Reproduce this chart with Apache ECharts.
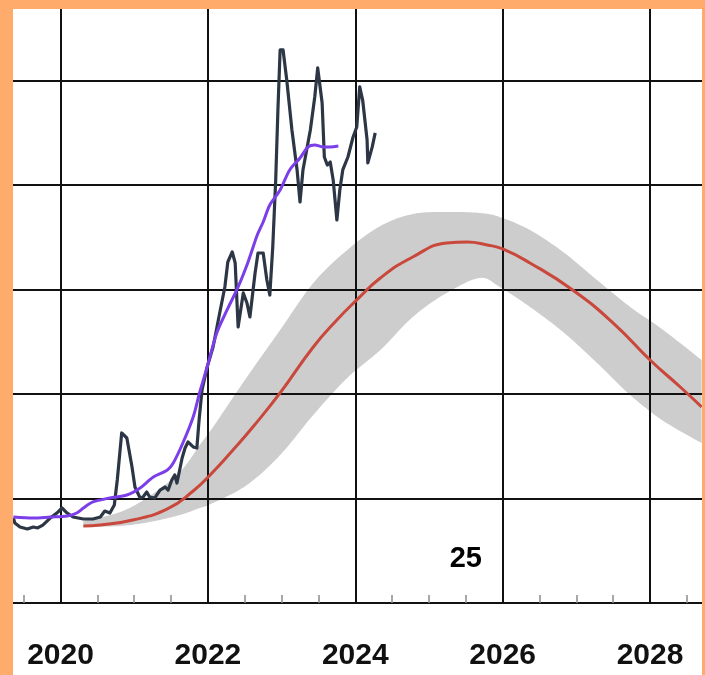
<!DOCTYPE html>
<html>
<head>
<meta charset="utf-8">
<script src="https://cdn.jsdelivr.net/npm/echarts@6/dist/echarts.min.js"></script>
<style>
html,body{margin:0;padding:0;width:705px;height:675px;background:#ffab6c;overflow:hidden;}
#panel{position:absolute;left:13px;top:9px;width:689px;height:666px;background:#fff;}
#chart{width:689px;height:666px;}
</style>
</head>
<body>
<div id="panel"><div id="chart"></div></div>
<script>
// Observed monthly series (dark)
const obsYears = [2019.36,2019.38,2019.45,2019.55,2019.63,2019.69,2019.76,2019.86,2019.95,2020.02,2020.09,2020.17,2020.31,2020.44,2020.54,2020.60,2020.67,2020.73,2020.77,2020.83,2020.90,2020.97,2021.01,2021.08,2021.12,2021.17,2021.21,2021.28,2021.35,2021.42,2021.46,2021.51,2021.55,2021.58,2021.65,2021.69,2021.73,2021.80,2021.85,2021.88,2021.92,2021.99,2022.07,2022.16,2022.23,2022.27,2022.33,2022.37,2022.41,2022.48,2022.53,2022.57,2022.64,2022.68,2022.75,2022.80,2022.84,2022.88,2022.92,2022.95,2022.98,2023.02,2023.07,2023.14,2023.21,2023.25,2023.29,2023.39,2023.45,2023.49,2023.55,2023.58,2023.62,2023.66,2023.70,2023.75,2023.79,2023.83,2023.90,2023.97,2024.02,2024.06,2024.10,2024.16,2024.17,2024.23,2024.27];
const obsValues = [8.13,7.66,7.27,7.08,7.27,7.18,7.46,8.13,8.61,9.09,8.61,8.23,8.04,8.04,8.23,8.80,8.61,9.38,11.77,16.27,15.79,13.01,11.10,10.05,10.14,10.62,10.14,10.05,10.81,11.10,10.81,11.77,12.25,11.48,13.88,14.83,15.41,14.93,14.83,17.51,20.38,22.58,24.50,27.75,30.24,32.63,33.59,32.54,26.41,29.67,28.71,27.37,31.58,33.49,33.49,30.91,29.47,34.07,40.48,47.18,52.92,52.92,50.05,45.26,41.44,38.37,41.44,45.26,48.42,51.20,47.85,42.68,41.91,42.20,40.48,36.65,39.52,41.44,42.68,44.59,45.55,49.38,48.13,44.31,42.11,43.64,44.98];

// Smoothed trend (purple)
const trendYears = [2019.36,2019.63,2019.86,2020.09,2020.22,2020.31,2020.44,2020.67,2020.90,2021.08,2021.26,2021.45,2021.53,2021.66,2021.80,2021.89,2021.99,2022.12,2022.26,2022.41,2022.53,2022.60,2022.67,2022.75,2022.84,2022.98,2023.11,2023.25,2023.36,2023.45,2023.56,2023.66,2023.77];
const trendValues = [8.23,8.13,8.23,8.33,8.61,9.09,9.67,10.05,10.33,11.00,12.06,12.73,13.40,15.31,17.80,20.19,22.58,25.84,28.04,30.24,32.34,33.78,35.22,36.46,38.09,39.52,41.44,42.58,43.64,43.83,43.64,43.64,43.73];

// Model curve (red)
const modelYears = [2020.31,2020.54,2020.98,2021.45,2021.80,2022.03,2022.34,2022.61,2022.98,2023.43,2023.75,2024.02,2024.34,2024.78,2025.24,2025.52,2025.79,2026.00,2026.37,2026.95,2027.50,2028.00,2028.41,2028.70];
const modelValues = [7.37,7.46,7.94,9.00,10.72,12.25,14.64,16.84,20.10,24.50,27.08,29.00,31.10,33.11,34.45,34.55,34.26,33.88,32.54,29.95,26.79,23.25,20.67,18.76];

// Uncertainty band (gray)
const bandYears = [2020.31,2020.81,2021.21,2021.62,2021.89,2022.07,2022.53,2022.98,2023.43,2023.89,2024.34,2024.78,2025.24,2025.69,2025.96,2026.37,2026.82,2027.28,2027.73,2028.18,2028.70];
const bandUpper = [7.85,8.71,10.24,12.54,15.12,16.84,21.63,26.12,30.62,33.78,36.08,37.22,37.42,37.32,36.94,35.69,33.59,30.91,28.33,26.12,23.25];
const bandLower = [7.27,7.37,7.75,8.42,9.09,9.57,11.29,14.16,17.99,21.53,24.21,27.37,29.67,31.10,30.24,28.33,25.93,22.97,19.90,17.42,15.31];

// Axis / annotation
const xMin = 2019.355, xMax = 2028.705;
const yMin = 0, yMax = 56.84, yStep = 10;
const annotation = [[2025.50, 4.2, '25']];

const zip = (xs, ys) => xs.map((x, i) => [x, ys[i]]);

// Catmull-Rom sampling of screen points (drawing helper only)
function splinePts(pts, steps) {
  const out = [];
  const n = pts.length;
  for (let i = 0; i < n - 1; i++) {
    const p0 = pts[Math.max(i - 1, 0)], p1 = pts[i], p2 = pts[i + 1], p3 = pts[Math.min(i + 2, n - 1)];
    for (let s = 0; s < steps; s++) {
      const t = s / steps, t2 = t * t, t3 = t2 * t;
      const f = (a, b, c, d) => 0.5 * ((2 * b) + (-a + c) * t + (2 * a - 5 * b + 4 * c - d) * t2 + (-a + 3 * b - 3 * c + d) * t3);
      out.push([f(p0[0], p1[0], p2[0], p3[0]), f(p0[1], p1[1], p2[1], p3[1])]);
    }
  }
  out.push(pts[n - 1]);
  return out;
}

const chart = echarts.init(document.getElementById('chart'), null, {renderer: 'canvas'});
chart.setOption({
  animation: false,
  backgroundColor: '#fff',
  grid: {left: 0, right: 0, top: 0, bottom: 72, containLabel: false},
  xAxis: {
    type: 'value', min: xMin, max: xMax, minInterval: 2, maxInterval: 2, z: 2,
    axisLine: {show: true, onZero: false, lineStyle: {color: '#111', width: 2}},
    axisTick: {show: false, inside: true},
    minorTick: {show: true, splitNumber: 4, length: 8, lineStyle: {color: '#8a8a8a', width: 1.5}},
    splitLine: {show: true, showMinLine: false, showMaxLine: false, lineStyle: {color: '#111', width: 2}},
    minorSplitLine: {show: false},
    axisLabel: {
      show: true, showMinLabel: false, showMaxLabel: false, margin: 38,
      fontFamily: 'Liberation Sans, Arial, sans-serif', fontSize: 30, fontWeight: 'bold', color: '#111',
      formatter: v => String(Math.round(v))
    }
  },
  yAxis: {
    type: 'value', min: yMin, max: yMax, interval: yStep, z: 2,
    axisLine: {show: false}, axisTick: {show: false}, axisLabel: {show: false},
    splitLine: {show: true, showMinLine: false, showMaxLine: false, lineStyle: {color: '#111', width: 2}}
  },
  series: [
    {
      type: 'custom', name: 'band', z: 1, silent: true, clip: true,
      data: bandYears.map((x, i) => [x, bandLower[i], bandUpper[i]]),
      encode: {x: 0, y: [1, 2]},
      renderItem: (params, api) => {
        if (params.dataIndex !== 0) return null;
        const up = splinePts(bandYears.map((x, i) => api.coord([x, bandUpper[i]])), 12);
        const lo = splinePts(bandYears.map((x, i) => api.coord([x, bandLower[i]])), 12).reverse();
        return {
          type: 'polygon',
          shape: {points: up.concat(lo)},
          style: {fill: '#cdcdcd'}
        };
      }
    },
    {
      type: 'line', name: 'model', z: 3, smooth: 0.5, symbol: 'none',
      lineStyle: {color: '#c9473b', width: 3}, data: zip(modelYears, modelValues)
    },
    {
      type: 'line', name: 'observed', z: 4, symbol: 'none',
      lineStyle: {color: '#2c3645', width: 3.2, join: 'round'}, data: zip(obsYears, obsValues)
    },
    {
      type: 'line', name: 'trend', z: 5, smooth: 0.3, symbol: 'none',
      lineStyle: {color: '#7b3ee8', width: 3}, data: zip(trendYears, trendValues)
    },
    {
      type: 'scatter', name: 'note', z: 6, symbolSize: 0, itemStyle: {opacity: 1},
      data: annotation.map(a => ({value: [a[0], a[1]], label: {show: true, formatter: a[2]}})),
      label: {position: 'inside', fontFamily: 'Liberation Sans, Arial, sans-serif', fontSize: 29, fontWeight: 'bold', color: '#000', opacity: 1}
    }
  ]
});
</script>
</body>
</html>
